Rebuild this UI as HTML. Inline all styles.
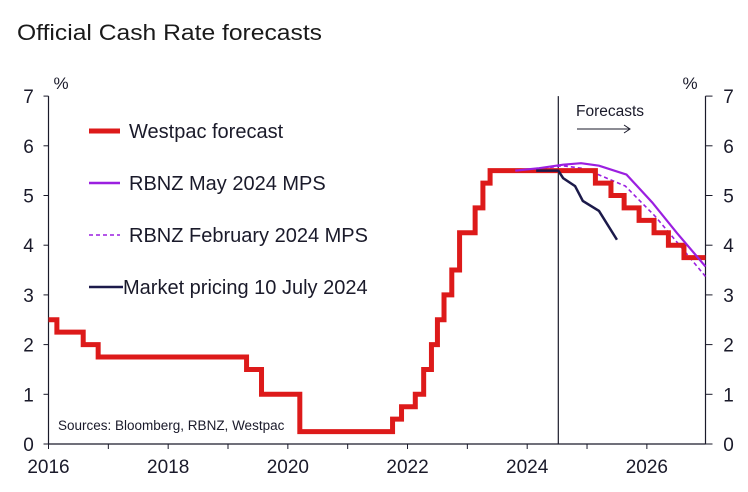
<!DOCTYPE html>
<html><head><meta charset="utf-8"><style>
body{margin:0;background:#fff}
svg{display:block;font-family:"Liberation Sans",Arial,sans-serif}
</style></head><body>
<svg width="748" height="492" viewBox="0 0 748 492">
<text x="17" y="40" font-size="22" fill="#1a1a1a" textLength="305" lengthAdjust="spacingAndGlyphs">Official Cash Rate forecasts</text>
<g id="axes"></g>
<g id="series"></g>
<text x="576" y="116" font-size="15.5" fill="#1a1a2a">Forecasts</text>
<g stroke="#1a1a2a" stroke-width="1" fill="none"><line x1="577" y1="129" x2="630" y2="129"/><polyline points="624,125 630,129 624,133"/></g>
<g font-size="20" fill="#1a1a2a">
<line x1="89" y1="131" x2="120" y2="131" stroke="#dd1a1a" stroke-width="5"/>
<text x="129" y="138">Westpac forecast</text>
<line x1="89" y1="183" x2="120" y2="183" stroke="#9b1fe0" stroke-width="2.5"/>
<text x="129" y="190">RBNZ May 2024 MPS</text>
<line x1="89" y1="235" x2="120" y2="235" stroke="#9b1fe0" stroke-width="1.5" stroke-dasharray="4,3"/>
<text x="129" y="242">RBNZ February 2024 MPS</text>
<line x1="89" y1="287" x2="123" y2="287" stroke="#1c1a4a" stroke-width="2.5"/>
<text x="123" y="294">Market pricing 10 July 2024</text>
</g>
<text x="58" y="430" font-size="13.5" fill="#1a1a2a">Sources: Bloomberg, RBNZ, Westpac</text>
</svg>
<script>
const yTicks=[0,1,2,3,4,5,6,7];
const xTickYears=[2016,2018,2020,2022,2024,2026];
const westpacT=[2016,2016.14,2016.58,2016.83,2019.31,2019.56,2020.2,2021.75,2021.9,2022.13,2022.27,2022.4,2022.5,2022.61,2022.74,2022.87,2023.13,2023.26,2023.38,2025.14,2025.4,2025.62,2025.87,2026.12,2026.36,2026.62];
const westpacV=[2.5,2.25,2.0,1.75,1.5,1.0,0.25,0.5,0.75,1.0,1.5,2.0,2.5,3.0,3.5,4.25,4.75,5.25,5.5,5.25,5.0,4.75,4.5,4.25,4.0,3.75];
const mayT=[2023.8,2024.2,2024.6,2024.9,2025.2,2025.66,2026.09,2026.5,2026.98];
const mayV=[5.5,5.55,5.62,5.65,5.6,5.42,4.86,4.25,3.57];
const febT=[2023.8,2024.2,2024.58,2024.9,2025.19,2025.64,2026.14,2026.56,2026.98];
const febV=[5.5,5.53,5.6,5.55,5.42,5.19,4.58,3.98,3.37];
const mktT=[2024.15,2024.52,2024.6,2024.8,2024.93,2025.2,2025.5];
const mktV=[5.5,5.5,5.35,5.19,4.89,4.69,4.11];
const X0=48.5,X1=705.5,T0=2016,T1=2026.98,Y0=444,YS=49.7;
const xs=t=>X0+(t-T0)*(X1-X0)/(T1-T0);
const ys=v=>Y0-v*YS;
const NS='http://www.w3.org/2000/svg';
function mk(tag,attrs,parent){const e=document.createElementNS(NS,tag);for(const k in attrs)e.setAttribute(k,attrs[k]);parent.appendChild(e);return e;}
const ax=document.getElementById('axes'),sg=document.getElementById('series');
let e;
e=mk('line',{x1:X0,y1:ys(7),x2:X0,y2:Y0,stroke:'#1a1a2a','stroke-width':1.2},ax);


e=mk('line',{x1:X1,y1:ys(7),x2:X1,y2:Y0,stroke:'#1a1a2a','stroke-width':1.2},ax);


e=mk('line',{x1:X0,y1:Y0,x2:X1,y2:Y0,stroke:'#1a1a2a','stroke-width':1.2},ax);


yTicks.forEach(v=>{
 mk('line',{x1:X0-5,y1:ys(v),x2:X0,y2:ys(v),stroke:'#1a1a2a'},ax);
 mk('line',{x1:X1,y1:ys(v),x2:X1+7,y2:ys(v),stroke:'#1a1a2a'},ax);
 e=mk('text',{x:X0-20,y:ys(v)+7,'font-size':19,'text-anchor':'middle',fill:'#1a1a2a'},ax);e.textContent=v;
 
 
 e=mk('text',{x:X1+23,y:ys(v)+7,'font-size':19,'text-anchor':'middle',fill:'#1a1a2a'},ax);e.textContent=v;
 
 
});
for(let yr=2016;yr<=2026;yr++){mk('line',{x1:xs(yr),y1:Y0,x2:xs(yr),y2:Y0+5,stroke:'#1a1a2a'},ax);}
xTickYears.forEach(yr=>{e=mk('text',{x:xs(yr),y:Y0+29,'font-size':19,'text-anchor':'middle',fill:'#1a1a2a'},ax);e.textContent=yr;
 
 });
e=mk('text',{x:61,y:89,'font-size':17,'text-anchor':'middle',fill:'#1a1a2a'},ax);e.textContent='%';


e=mk('text',{x:690,y:89,'font-size':17,'text-anchor':'middle',fill:'#1a1a2a'},ax);e.textContent='%';


e=mk('line',{x1:xs(2024.52),y1:ys(7),x2:xs(2024.52),y2:Y0,stroke:'#1a1a2a','stroke-width':1.2},ax);


let d='M'+xs(westpacT[0])+','+ys(westpacV[0]);
for(let i=1;i<westpacT.length;i++){d+=' H'+xs(westpacT[i])+' V'+ys(westpacV[i]);}
d+=' H'+xs(T1);
const line=(T,V)=>T.map((t,i)=>(i?'L':'M')+xs(t)+','+ys(V[i])).join(' ');
e=mk('path',{d:line(febT,febV),fill:'none',stroke:'#9b1fe0','stroke-width':1.6,'stroke-dasharray':'4,3'},sg);


e=mk('path',{d:d,fill:'none',stroke:'#dd1a1a','stroke-width':5,'stroke-linejoin':'miter'},sg);


e=mk('path',{d:line(mayT,mayV),fill:'none',stroke:'#9b1fe0','stroke-width':2.2},sg);


e=mk('path',{d:line(mktT,mktV),fill:'none',stroke:'#1c1a4a','stroke-width':2.5},sg);


</script>
</body></html>
